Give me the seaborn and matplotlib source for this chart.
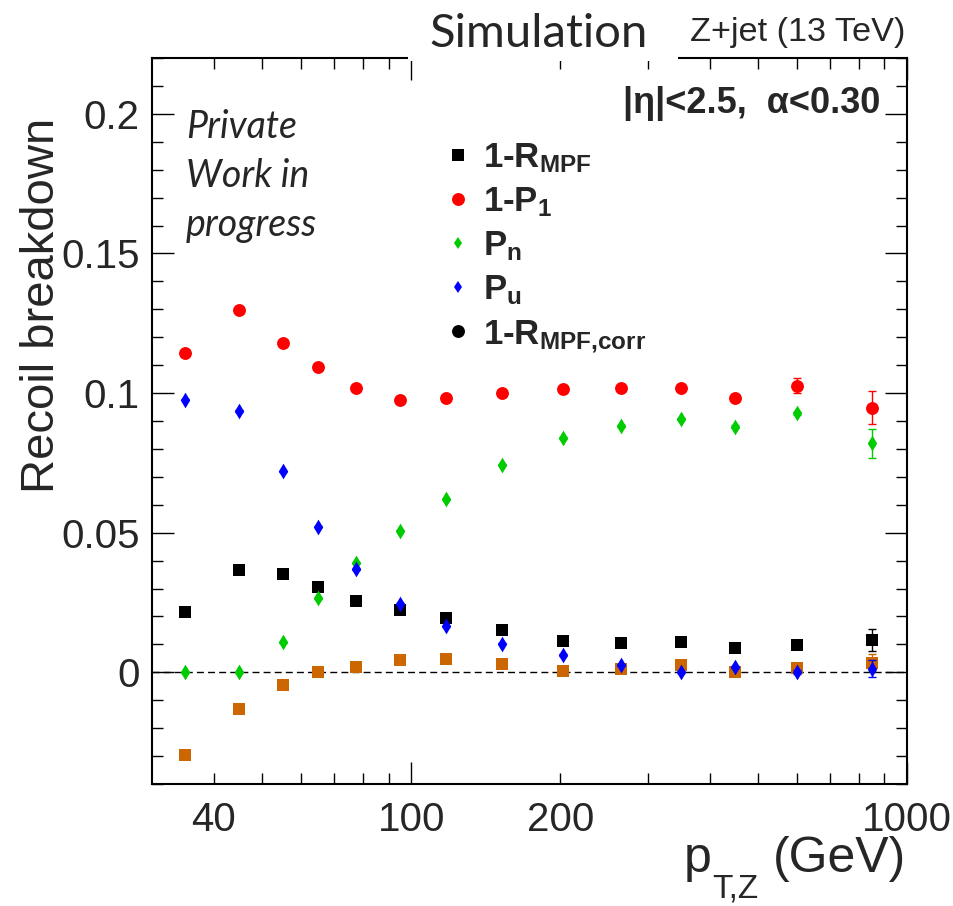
import numpy as np
import pandas as pd
import matplotlib
matplotlib.use("Agg")
import matplotlib.pyplot as plt
import seaborn as sns
from matplotlib.lines import Line2D
from matplotlib.patches import Rectangle
from matplotlib.ticker import FixedLocator, FuncFormatter, MultipleLocator

# ---------------- data ----------------
pt = [35, 45, 55, 65, 77.5, 95, 117.5, 152.5, 202.5, 265, 350, 450, 600, 850]
r_mpf = [0.0217, 0.0367, 0.0351, 0.0304, 0.0256, 0.0223, 0.0194, 0.0152, 0.0112, 0.0106, 0.0107, 0.0086, 0.0098, 0.0115]
p1 = [0.1143, 0.1297, 0.1180, 0.1092, 0.1019, 0.0976, 0.0981, 0.0999, 0.1014, 0.1018, 0.1018, 0.0982, 0.1026, 0.0948]
pn = [0.0000, 0.0000, 0.0108, 0.0265, 0.0393, 0.0507, 0.0620, 0.0744, 0.0838, 0.0883, 0.0908, 0.0880, 0.0927, 0.0820]
pu = [0.0976, 0.0936, 0.0720, 0.0521, 0.0370, 0.0245, 0.0165, 0.0102, 0.0063, 0.0026, 0.0000, 0.0019, 0.0000, 0.0013]
r_corr = [-0.0296, -0.0132, -0.0044, 0.0001, 0.0020, 0.0043, 0.0048, 0.0029, 0.0006, 0.0013, 0.0026, 0.0001, 0.0014, 0.0035]

r_mpf_err = [0.0003, 0.0003, 0.0003, 0.0003, 0.0003, 0.0003, 0.0003, 0.0003, 0.0003, 0.0004, 0.0005, 0.0006, 0.0010, 0.0040]
p1_err = [0.0004, 0.0004, 0.0004, 0.0004, 0.0004, 0.0004, 0.0004, 0.0004, 0.0005, 0.0006, 0.0008, 0.0010, 0.0027, 0.0058]
pn_err = [0.0002, 0.0002, 0.0002, 0.0002, 0.0002, 0.0002, 0.0002, 0.0002, 0.0003, 0.0003, 0.0004, 0.0005, 0.0007, 0.0051]
pu_err = [0.0002, 0.0002, 0.0002, 0.0002, 0.0002, 0.0002, 0.0002, 0.0002, 0.0003, 0.0003, 0.0004, 0.0005, 0.0007, 0.0030]
r_corr_err = [0.0003, 0.0003, 0.0003, 0.0003, 0.0003, 0.0003, 0.0003, 0.0003, 0.0003, 0.0004, 0.0005, 0.0006, 0.0010, 0.0030]

series_names = ["1-R_MPF", "1-R_MPF,corr", "1-P_1", "P_n", "P_u"]
x_major = [100, 1000]
x_minor = [40, 50, 60, 70, 80, 90, 200, 300, 400, 500, 600, 700, 800, 900]
x_minor_labeled = [40, 200]
y_major = [0, 0.05, 0.1, 0.15, 0.2]

legend_labels = ["1-$\\mathregular{R_{MPF}}$", "1-$\\mathregular{P_{1}}$",
                 "$\\mathregular{P_{n}}$", "$\\mathregular{P_{u}}$",
                 "1-$\\mathregular{R_{MPF{,}corr}}$"]

# ---------------- style ----------------
sns.set_style("ticks")
plt.rcParams['font.family'] = ['Liberation Sans', 'DejaVu Sans']
plt.rcParams['mathtext.fontset'] = 'custom'
plt.rcParams['mathtext.rm'] = 'Liberation Sans'
plt.rcParams['mathtext.it'] = 'Liberation Sans:italic'
plt.rcParams['mathtext.bf'] = 'Liberation Sans:bold'
plt.rcParams['mathtext.default'] = 'regular'
plt.rcParams['axes.linewidth'] = 1.5

W, H = 954, 906
fig = plt.figure(figsize=(W / 100, H / 100), dpi=100)
L, R, T, B = 152, 907, 58, 784
ax = fig.add_axes([L / W, 1 - B / H, (R - L) / W, (B - T) / H])
ax.set_xscale('log')

rows = []
for name, vals, errs in zip(series_names, [r_mpf, r_corr, p1, pn, pu],
                            [r_mpf_err, r_corr_err, p1_err, pn_err, pu_err]):
    for x, v, e in zip(pt, vals, errs):
        rows.append({"pt": x, "value": v, "err": e, "series": name})
df = pd.DataFrame(rows)

style = {
    "1-R_MPF": dict(color="#000000", marker="s", s=74),
    "1-R_MPF,corr": dict(color="#CC6600", marker="s", s=74),
    "1-P_1": dict(color="#FF0000", marker="o", s=86),
    "P_n": dict(color="#00CC00", marker="d", s=64),
    "P_u": dict(color="#0000FF", marker="d", s=64),
}

ax.axhline(0, color='k', lw=1, ls=(0, (5, 3)), zorder=1)

for i, name in enumerate(series_names):
    sub = df[df.series == name]
    st = style[name]
    ax.errorbar(sub.pt, sub.value, yerr=sub.err, fmt='none', ecolor=st["color"],
                elinewidth=1, capsize=3, capthick=1, zorder=2 + i)
    sns.scatterplot(data=sub, x="pt", y="value", ax=ax, color=st["color"],
                    marker=st["marker"], s=st["s"], linewidth=0, zorder=2 + i)

ax.set_xlim(30, 1000)
ax.set_ylim(-0.04, 0.22)
ax.set_xlabel("")
ax.set_ylabel("")

ax.xaxis.set_major_locator(FixedLocator(x_major))
ax.xaxis.set_minor_locator(FixedLocator(x_minor))
ax.xaxis.set_major_formatter(FuncFormatter(lambda v, p: f"{v:g}"))
ax.xaxis.set_minor_formatter(FuncFormatter(lambda v, p: f"{v:g}" if v in x_minor_labeled else ""))
ax.yaxis.set_major_locator(FixedLocator(y_major))
ax.yaxis.set_minor_locator(MultipleLocator(0.01))
ax.yaxis.set_major_formatter(FuncFormatter(lambda v, p: f"{v:g}"))

ax.tick_params(which='both', direction='in', top=True, right=True, labelsize=29, width=1, color='k')
ax.tick_params(which='major', length=16)
ax.tick_params(which='minor', length=8)
ax.tick_params(axis='x', which='both', pad=12)
ax.tick_params(axis='y', which='both', pad=9)
for s in ax.spines.values():
    s.set_visible(True)
    s.set_linewidth(1.5)
    s.set_color('k')

# legend
handles = [
    Line2D([], [], ls='none', marker='s', color='k', ms=8.6, mew=0),
    Line2D([], [], ls='none', marker='o', color='#FF0000', ms=9.3, mew=0),
    Line2D([], [], ls='none', marker='d', color='#00CC00', ms=6.2, mew=0),
    Line2D([], [], ls='none', marker='d', color='#0000FF', ms=6.2, mew=0),
    Line2D([], [], ls='none', marker='o', color='k', ms=9.3, mew=0),
]
ax.legend(handles, legend_labels, loc='upper left', bbox_to_anchor=(444 / W, 1 - 141 / H),
          bbox_transform=fig.transFigure, frameon=False,
          prop={'size': 25, 'weight': 'bold'}, handlelength=0.8, handletextpad=0.32,
          borderpad=0, borderaxespad=0, labelspacing=0.3)

# white gap in top frame behind "Simulation"
fig.add_artist(Rectangle((408 / W, 1 - 61 / H), (678 - 408) / W, 9 / H,
                         transform=fig.transFigure, facecolor='white',
                         edgecolor='none', zorder=5))

fig.text(429 / W, 1 - 47 / H, 'Simulation', family=['Lato', 'DejaVu Sans'], size=34,
         ha='left', va='baseline', zorder=6)
fig.text(905 / W, 1 - 41 / H, 'Z+jet (13 TeV)', size=24.7, ha='right', va='baseline', zorder=6)
fig.text(880 / W, 1 - 113 / H, '|η|<2.5,  α<0.30', size=26, weight='bold',
         ha='right', va='baseline')
for txt, yb in zip(['Private', 'Work in', 'progress'], [138, 187, 236]):
    fig.text(186 / W, 1 - yb / H, txt, family=['Lato', 'DejaVu Sans'], style='italic',
             size=27, ha='left', va='baseline')

fig.text(42 / W, 1 - 118 / H, 'Recoil breakdown', rotation=90, size=34, ha='center', va='top')
# x-axis title: p with a low-set subscript, then (GeV)
fig.text(684 / W, 1 - 872 / H, 'p', size=36, ha='left', va='baseline')
fig.text(712 / W, 1 - 897 / H, 'T,Z', size=24, ha='left', va='baseline')
fig.text(906 / W, 1 - 872 / H, '(GeV)', size=36, ha='right', va='baseline')

fig.savefig("out.png", dpi=100)
